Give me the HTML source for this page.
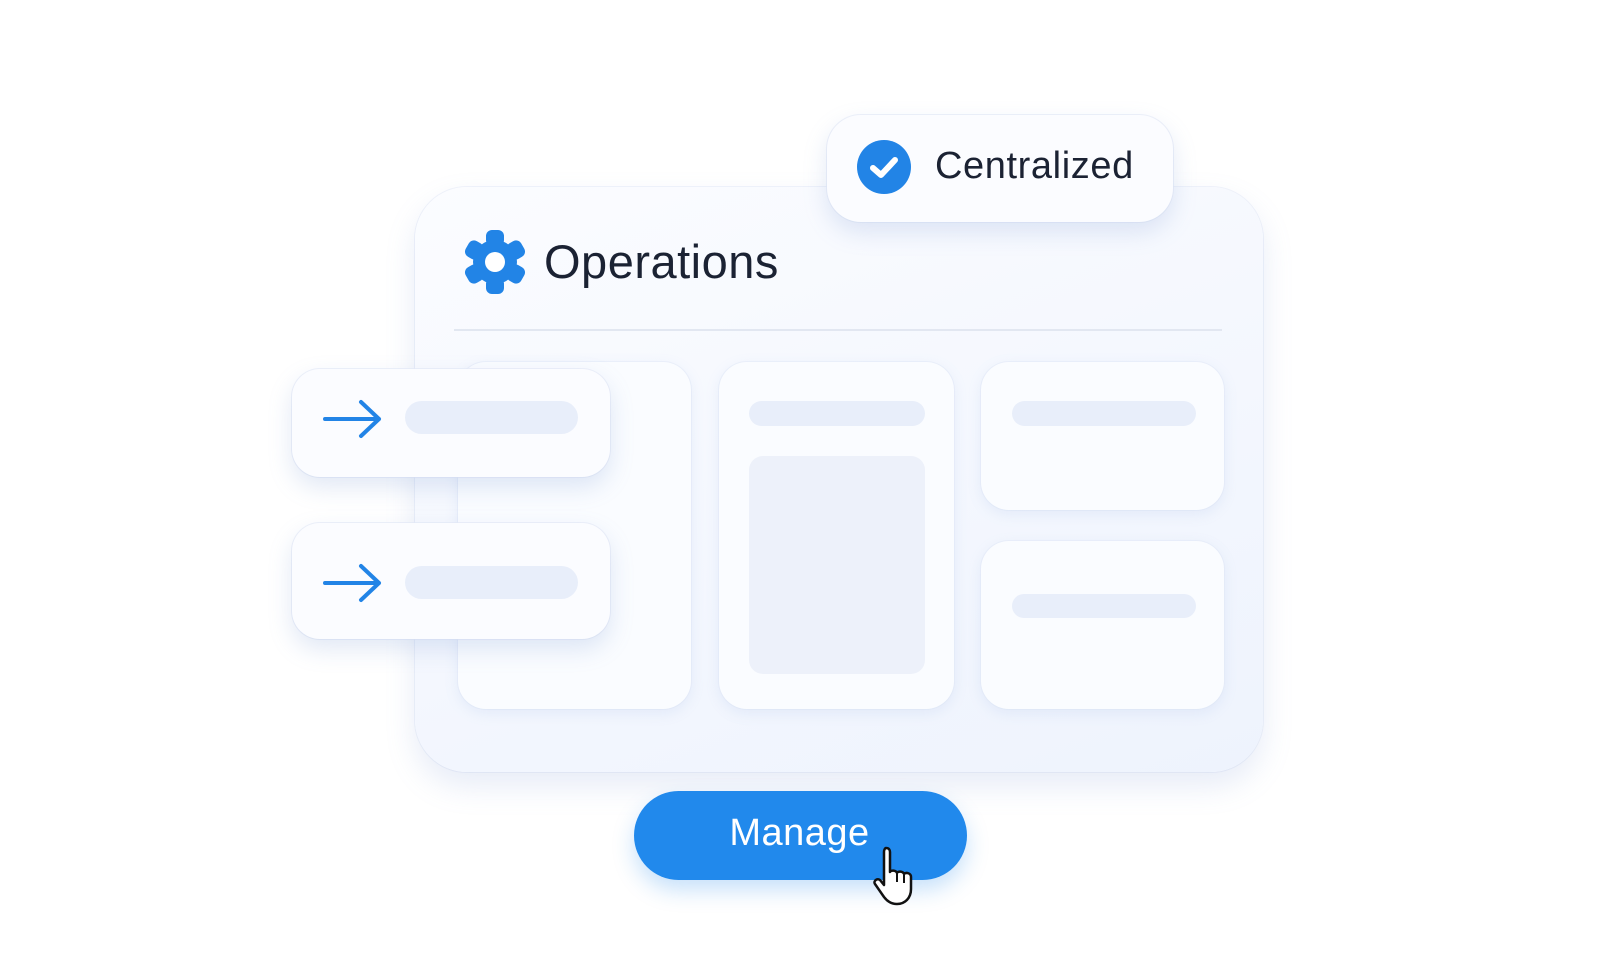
<!DOCTYPE html>
<html><head><style>
body{margin:0;width:1600px;height:960px;background:#fff;position:relative;overflow:hidden;font-family:"Liberation Sans",sans-serif}
.a{position:absolute;box-sizing:border-box}
.panel{left:415px;top:187px;width:848px;height:585px;border-radius:52px;background:linear-gradient(160deg,#fbfcff,#eef3fd);box-shadow:0 14px 30px rgba(120,150,210,.18),0 0 0 1px rgba(228,234,247,.5)}
.card{background:#fafcff;border-radius:28px;box-shadow:0 4px 14px rgba(130,160,220,.14),0 0 0 1px rgba(232,237,248,.6)}
.bar{background:#e8eefa;border-radius:14px}
.float{background:#fbfcff;border-radius:28px;box-shadow:0 10px 24px rgba(120,150,210,.22),0 0 0 1px rgba(232,237,248,.7)}
</style></head><body>
<div class="a panel"></div>
<div class="a" style="left:454px;top:329px;width:768px;height:2px;background:#e2e7f1"></div>
<svg class="a" style="left:463px;top:229px" width="64" height="66" viewBox="-32 -33 64 66">
<g fill="#2284e6"><circle r="22"/>
<g id="t"><rect x="-9" y="-32" width="18" height="16" rx="6"/></g>
<use href="#t" transform="rotate(60)"/><use href="#t" transform="rotate(120)"/><use href="#t" transform="rotate(180)"/><use href="#t" transform="rotate(240)"/><use href="#t" transform="rotate(300)"/></g>
<circle r="10" fill="#fff"/></svg>
<div class="a" style="left:544px;top:234px;font-size:47px;letter-spacing:0.5px;color:#1b2233;line-height:56px">Operations</div>

<div class="a card" style="left:458px;top:362px;width:233px;height:347px"></div>
<div class="a card" style="left:719px;top:362px;width:235px;height:347px"></div>
<div class="a bar" style="left:749px;top:401px;width:176px;height:25px"></div>
<div class="a" style="left:749px;top:456px;width:176px;height:218px;background:#edf1fa;border-radius:14px"></div>
<div class="a card" style="left:981px;top:362px;width:243px;height:148px"></div>
<div class="a bar" style="left:1012px;top:401px;width:184px;height:25px"></div>
<div class="a card" style="left:981px;top:541px;width:243px;height:168px"></div>
<div class="a bar" style="left:1012px;top:594px;width:184px;height:24px"></div>

<div class="a float" style="left:292px;top:369px;width:318px;height:108px"></div>
<div class="a bar" style="left:405px;top:401px;width:173px;height:33px;border-radius:17px"></div>
<svg class="a" style="left:321px;top:398px" width="64" height="42"><path d="M4 21H58M40 4L58 21L40 38" fill="none" stroke="#2284e6" stroke-width="4" stroke-linecap="round" stroke-linejoin="round"/></svg>
<div class="a float" style="left:292px;top:523px;width:318px;height:116px"></div>
<div class="a bar" style="left:405px;top:566px;width:173px;height:33px;border-radius:17px"></div>
<svg class="a" style="left:321px;top:562px" width="64" height="42"><path d="M4 21H58M40 4L58 21L40 38" fill="none" stroke="#2284e6" stroke-width="4" stroke-linecap="round" stroke-linejoin="round"/></svg>

<div class="a float" style="left:827px;top:115px;width:346px;height:107px;border-radius:34px"></div>
<svg class="a" style="left:856px;top:139px" width="56" height="56"><circle cx="28" cy="28" r="27" fill="#2284e6"/><path d="M17 29L25 36L39 21" fill="none" stroke="#fff" stroke-width="6" stroke-linecap="round" stroke-linejoin="round"/></svg>
<div class="a" style="left:935px;top:144px;font-size:38px;letter-spacing:0.6px;color:#1b2233;line-height:44px">Centralized</div>

<div class="a" style="left:634px;top:791px;width:333px;height:89px;border-radius:45px;background:#2189ec;box-shadow:0 10px 22px rgba(33,137,236,.25)"></div>
<div class="a" style="left:634px;top:808px;width:333px;text-align:center;font-size:38px;letter-spacing:0.5px;color:#fff;line-height:50px;padding-right:2px">Manage</div>
<svg class="a" style="left:872px;top:844px" width="50" height="64" viewBox="0 0 50 64"><path d="M14 4c3 0 4 2 4 4v20c1-2 6-2 7 1 1-2 6-2 7 1 2-2 7-1 7 3v12c0 9-6 15-14 15-6 0-10-3-13-7L3 40c-2-3 2-6 5-4l4 5V8c0-2 1-4 2-4z" fill="#fff" stroke="#111" stroke-width="2.5" stroke-linejoin="round"/><path d="M25 29v9M32 31v8" stroke="#111" stroke-width="2"/></svg>
</body></html>
